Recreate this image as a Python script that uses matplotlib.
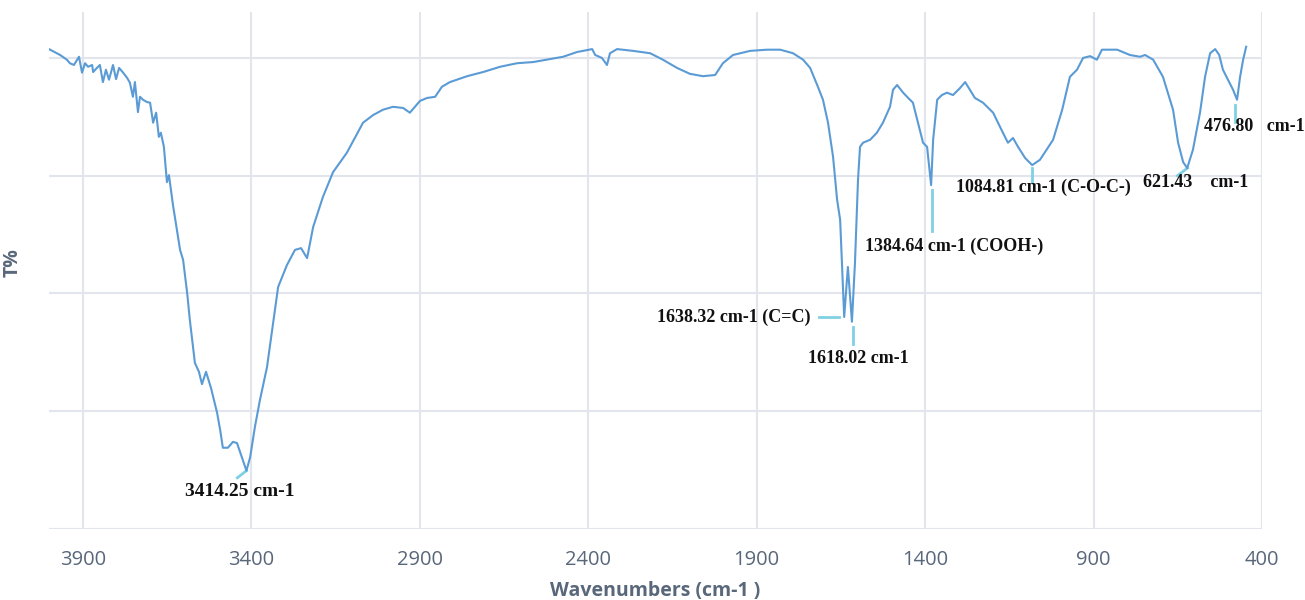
import matplotlib
matplotlib.use("Agg")
import matplotlib.pyplot as plt

# FTIR spectrum, values
wavenumber = [
    4000, 3967, 3947, 3938, 3926, 3911, 3902, 3893, 3884, 3872, 3869, 3858, 3849, 3840,
    3831, 3822, 3810, 3801, 3792, 3780, 3768, 3760, 3751, 3745, 3736, 3730, 3721, 3709,
    3700, 3691, 3682, 3674, 3668, 3659, 3650, 3644, 3632, 3611, 3602, 3590, 3582, 3567,
    3555, 3546, 3534, 3519, 3501, 3492, 3484, 3469, 3454, 3442, 3427, 3414, 3403, 3389,
    3374, 3353, 3320, 3294, 3270, 3252, 3234, 3216, 3187, 3157, 3116, 3068, 3038, 3009,
    2979, 2949, 2929, 2899, 2878, 2854, 2834, 2810, 2759, 2712, 2661, 2611, 2563, 2513,
    2474, 2433, 2388, 2379, 2359, 2344, 2335, 2314, 2267, 2216, 2178, 2136, 2098, 2059,
    2023, 2000, 1970, 1919, 1869, 1830, 1792, 1762, 1741, 1718, 1703, 1688, 1673, 1661,
    1652, 1640, 1629, 1617, 1608, 1599, 1593, 1584, 1563, 1543, 1525, 1504, 1495, 1483,
    1465, 1450, 1436, 1421, 1406, 1394, 1382, 1376, 1364, 1350, 1335, 1317, 1296, 1281,
    1267, 1252, 1228, 1198, 1169, 1154, 1139, 1124, 1103, 1082, 1059, 1044, 1020, 993,
    970, 949, 931, 910, 890, 875, 830, 792, 762, 747, 723, 694, 673, 664,
    649, 634, 622, 605, 584, 569, 554, 539, 527, 516, 501, 486, 474, 465,
    456, 447,
]
transmittance = [
    81.5, 80.5, 79.7, 79.1, 78.8, 80.2, 77.5, 79.1, 78.5, 78.8, 77.6, 78.3, 78.8, 75.9,
    78.0, 76.3, 78.8, 76.4, 78.3, 77.5, 76.6, 75.8, 73.4, 75.9, 70.8, 73.4, 72.9, 72.5,
    72.4, 69.0, 70.7, 66.6, 67.3, 64.9, 58.9, 60.1, 55.0, 47.4, 45.7, 40.1, 35.5, 28.2,
    26.7, 24.6, 26.7, 23.9, 19.7, 16.8, 13.8, 13.8, 14.8, 14.6, 12.1, 9.9, 12.2, 17.3,
    21.9, 27.5, 41.1, 44.8, 47.4, 47.7, 46.0, 51.3, 56.4, 60.6, 63.9, 69.0, 70.3, 71.2,
    71.7, 71.5, 70.7, 72.7, 73.2, 73.4, 75.1, 75.9, 76.9, 77.6, 78.5, 79.1, 79.3, 79.8,
    80.2, 81.0, 81.5, 80.5, 80.0, 78.8, 80.8, 81.5, 81.2, 80.8, 79.7, 78.3, 77.3, 76.9,
    77.1, 79.1, 80.5, 81.2, 81.4, 81.4, 80.8, 79.7, 78.3, 75.1, 72.9, 69.0, 63.2, 55.9,
    52.5, 36.0, 44.5, 35.2, 45.2, 59.3, 64.9, 65.6, 66.1, 67.3, 69.0, 71.7, 74.6, 75.4,
    74.1, 73.2, 72.4, 69.0, 65.6, 64.9, 58.4, 66.1, 72.9, 73.7, 74.1, 73.7, 74.9, 75.9,
    74.6, 73.2, 72.4, 70.7, 67.3, 65.6, 66.4, 64.9, 63.0, 61.8, 62.7, 64.0, 66.1, 71.2,
    76.8, 78.0, 80.0, 80.3, 79.7, 81.4, 81.4, 80.5, 80.2, 80.5, 79.7, 76.8, 72.9, 71.2,
    65.6, 62.3, 61.3, 64.4, 70.7, 76.8, 80.8, 81.5, 80.5, 78.0, 76.3, 74.6, 72.9, 76.8,
    79.7, 81.9,
]

x_ticks = [3900, 3400, 2900, 2400, 1900, 1400, 900, 400]

# peak labels: text, text position (wn, T), leader start, leader end, alignment, size
peak_labels = [
    ("3414.25 cm-1", (3433, 6.4), (3441, 8.7), (3414, 9.9), "center", 14),
    ("1638.32 cm-1 (C=C)", (1740, 36.0), (1715, 36.0), (1655, 36.0), "right", 13),
    ("1618.02 cm-1", (1599, 29.0), (1615, 34.3), (1615, 31.4), "center", 13),
    ("1384.64 cm-1 (COOH-)", (1578, 48.0), (1379, 57.5), (1379, 50.6), "left", 13),
    ("1084.81 cm-1 (C-O-C-)", (1308, 58.0), (1082, 61.3), (1082, 59.0), "left", 13),
    ("621.43    cm-1", (753, 58.8), (651, 60.0), (621, 61.3), "left", 13),
    ("476.80   cm-1", (572, 68.3), (479, 72.0), (479, 69.2), "left", 13),
]

LINE_COLOR = "#5b9bd5"
LEADER_COLOR = "#7fd0e3"
GRID_COLOR = "#e2e6ec"
TEXT_COLOR = "#59677a"

fig = plt.figure(figsize=(13.05, 6.0), dpi=100)
fig.set_facecolor("white")
ax = fig.add_axes([49 / 1305, 71 / 600, (1262 - 49) / 1305, (529 - 12) / 600])

ax.plot(wavenumber, transmittance, color=LINE_COLOR, linewidth=1.5, zorder=3)

for text, tpos, p0, p1, ha, size in peak_labels:
    ax.plot([p0[0], p1[0]], [p0[1], p1[1]], color=LEADER_COLOR, linewidth=2, zorder=2)
    ax.text(tpos[0], tpos[1], text, ha=ha, va="center", fontsize=size, fontweight="bold",
            family="Liberation Serif", color="#111111", zorder=4)

ax.set_xlim(4000, 400)
ax.set_ylim(0, 87.8)
ax.set_xticks(x_ticks)
ax.set_xticklabels([str(t) for t in x_ticks], fontsize=14.5, color=TEXT_COLOR, family="Open Sans")
ax.set_yticks([0, 20, 40, 60, 80])
ax.set_yticklabels([])
ax.tick_params(length=0, pad=15)
ax.grid(True, color=GRID_COLOR, linewidth=1.5)
ax.set_axisbelow(True)
for s in ax.spines.values():
    s.set_visible(False)

ax.set_xlabel("Wavenumbers (cm-1 )", fontsize=14, fontweight="bold", color=TEXT_COLOR,
              family="Open Sans", labelpad=8)
ax.set_ylabel("T%", fontsize=14, fontweight="bold", color=TEXT_COLOR, family="Open Sans")
ax.yaxis.set_label_coords(-0.0214, 0.516)

plt.savefig("out.png", dpi=100)
plt.close()
